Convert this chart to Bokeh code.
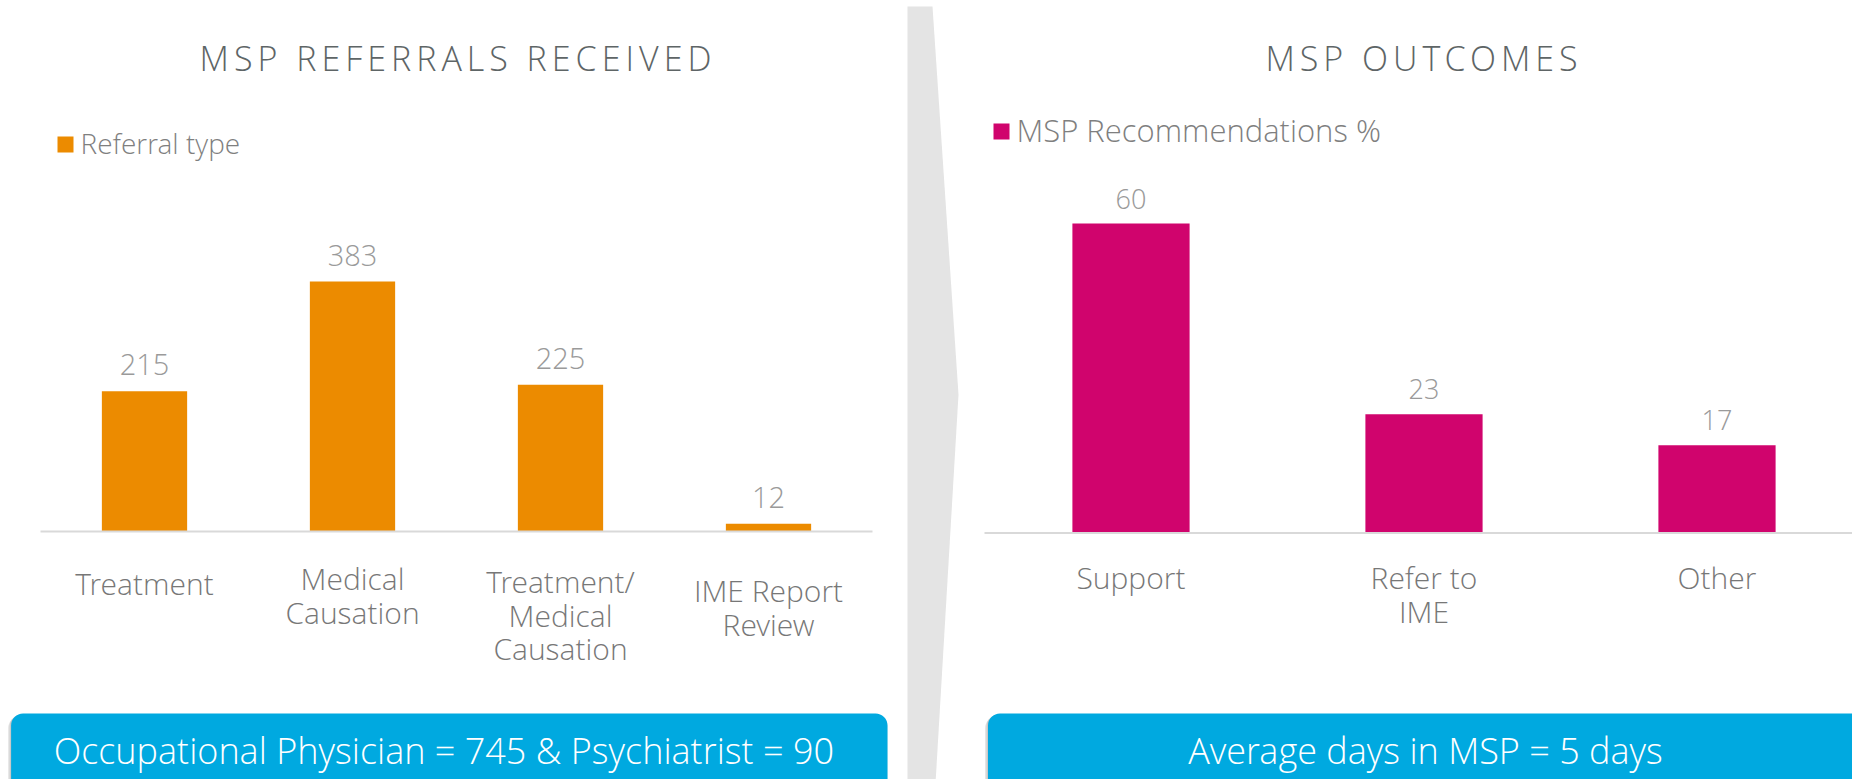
from bokeh.plotting import figure
from bokeh.models import Range1d, ColumnDataSource, InlineStyleSheet
from bokeh.layouts import row, column
from bokeh.embed import file_html
from bokeh.resources import INLINE
from bokeh.core.properties import value

# ---------------- data ----------------
left_title = "MSP REFERRALS RECEIVED"
left_series = "Referral type"
left_categories = ["Treatment", "Medical Causation", "Treatment/ Medical Causation", "IME Report Review"]
left_tick_labels = ["Treatment", "Medical\nCausation", "Treatment/\nMedical\nCausation", "IME Report\nReview"]
left_values = [215, 383, 225, 12]
left_note = "Occupational Physician  = 745 & Psychiatrist = 90"

right_title = "MSP OUTCOMES"
right_series = "MSP Recommendations %"
right_categories = ["Support", "Refer to IME", "Other"]
right_tick_labels = ["Support", "Refer to\nIME", "Other"]
right_values = [60, 23, 17]
right_note = "Average days in MSP = 5 days"

# ---------------- style ----------------
FONT = value("Open Sans Light")
ORANGE = "#EC8B00"
MAGENTA = "#D0046D"
BLUE = "#00A9E0"
TITLE_C = "#5E6566"
LEGEND_C = "#7F7F7F"
VALUE_C = "#9A9A9A"
CAT_C = "#777777"
AXIS_C = "#D9D9D9"
DIVIDER_C = "#E4E4E4"

PAGE_H = 779
TITLE_H = 100          # height of the title strip
TOP_GAP = 0.38         # distance from a "top" anchored text box to the cap line, in em
LETTER_SPACING = 5     # px, title tracking

# small vertical nudges of the category labels (px), as in the original slide
left_label_nudge = [0, -5, -2, 7]
right_label_nudge = [0, 0, 0]

title_css = InlineStyleSheet(css=f":host {{ letter-spacing: {LETTER_SPACING}px; }}")


def top_y(cap_top, size):
    return cap_top - TOP_GAP * size


def bare_fig(width, height, x_range, y_range):
    p = figure(width=width, height=height, x_range=x_range, y_range=y_range,
               x_axis_type=None, y_axis_type=None, toolbar_location=None,
               output_backend="svg", min_border=0, outline_line_color=None)
    p.background_fill_color = "white"
    p.border_fill_color = "white"
    return p


def title_fig(x0, x1, title, title_x):
    p = bare_fig(x1 - x0, TITLE_H, Range1d(x0, x1), Range1d(TITLE_H, 0))
    # the tracking is added after layout, so re-centre by half of it
    shift = -LETTER_SPACING * (len(title) - 1) / 2
    p.text(x=[title_x + shift], y=[top_y(47, 34)], text=[title], text_font=FONT,
           text_font_size="34px", text_color=TITLE_C, text_align="center",
           text_baseline="top")
    p.stylesheets = [title_css]
    return p


def panel(x0, x1, first_center, step, baseline, px_per_unit, axis_x0, axis_x1,
          categories, ticks, nudge, values, color, bar_width,
          series, sq, series_x, series_cap, series_size, note, box, note_x, note_size,
          value_size, value_offset, cat_cap, cat_lh):
    y0, y1 = TITLE_H, PAGE_H
    x_range = Range1d((x0 - first_center) / step, (x1 - first_center) / step)
    y_range = Range1d(-(y1 - baseline) / px_per_unit, (baseline - y0) / px_per_unit)
    p = bare_fig(x1 - x0, y1 - y0, x_range, y_range)
    p.extra_x_ranges = {"px": Range1d(x0, x1)}
    p.extra_y_ranges = {"px": Range1d(y1, y0)}
    src = ColumnDataSource(dict(
        x=list(range(len(categories))),
        cat=categories,
        tick=ticks,
        top=values,
        label=[str(v) for v in values],
        ty=[top_y(cat_cap, 30) + n for n in nudge],
    ))
    px = dict(x_range_name="px", y_range_name="px")

    # legend
    p.quad(left=[sq[0]], right=[sq[1]], top=[sq[2]], bottom=[sq[3]],
           fill_color=color, line_color=None, **px)
    p.text(x=[series_x], y=[top_y(series_cap, series_size)], text=[series], text_font=FONT,
           text_font_size=f"{series_size}px", text_color=LEGEND_C, text_align="left",
           text_baseline="top", **px)

    # bars
    p.vbar(x="x", top="top", bottom=0, width=bar_width, source=src,
           fill_color=color, line_color=None)
    # axis baseline
    p.line(x=[axis_x0, axis_x1], y=[baseline, baseline], line_color=AXIS_C,
           line_width=2, **px)
    # value labels
    p.text(x="x", y="top", text="label", source=src, text_font=FONT,
           text_font_size=f"{value_size}px", text_color=VALUE_C, text_align="center",
           text_baseline="top", y_offset=value_offset)
    # category labels
    p.text(x="x", y="ty", text="tick", source=src, text_font=FONT,
           text_font_size="30px", text_color=CAT_C, text_align="center",
           text_baseline="top", text_line_height=cat_lh, y_range_name="px")

    # note box with soft shadow
    p.quad(left=[box[0] - 3], right=[box[1] - 1], top=[box[2] + 2], bottom=[y1 + 30],
           fill_color="#000000", fill_alpha=0.10, line_color=None, border_radius=13, **px)
    p.quad(left=[box[0] - 1.5], right=[box[1]], top=[box[2] + 1], bottom=[y1 + 30],
           fill_color="#000000", fill_alpha=0.12, line_color=None, border_radius=12, **px)
    p.quad(left=[box[0]], right=[box[1]], top=[box[2]], bottom=[y1 + 30],
           fill_color=BLUE, line_color=None, border_radius=12, **px)
    p.text(x=[note_x], y=[top_y(739.5, note_size)], text=[note], text_font=FONT,
           text_font_size=f"{note_size}px", text_color="white", text_align="center",
           text_baseline="top", **px)
    return p


left_body = panel(0, 904, 144, 208, 531, 250 / 383, 40, 872,
                  left_categories, left_tick_labels, left_label_nudge, left_values, ORANGE, 0.41,
                  left_series, (57, 73, 136, 152), 80, 134.5, 28,
                  left_note, (10.6, 887, 713), 448, 36,
                  29, -37, 574, 0.82)

right_body = panel(975, 1852, 1130.5, 293, 532.5, 309.5 / 60, 984, 1863,
                   right_categories, right_tick_labels, right_label_nudge, right_values, MAGENTA, 0.40,
                   right_series, (993, 1009, 123, 139), 1016, 120, 31,
                   right_note, (987.5, 1863, 713), 1425, 36,
                   27, -35, 568, 0.82)

left_head = title_fig(0, 904, left_title, 455)
right_head = title_fig(975, 1852, right_title, 1421)

# divider chevron between the two panels
div = bare_fig(975 - 904, PAGE_H, Range1d(904, 975), Range1d(PAGE_H, 0))
div.patch(x=[907, 932, 958, 934, 907], y=[6, 6, 394, 800, 800],
          fill_color=DIVIDER_C, line_color=None)

layout = row(column(left_head, left_body), div, column(right_head, right_body))
open("out.html", "w").write(file_html(layout, INLINE))
